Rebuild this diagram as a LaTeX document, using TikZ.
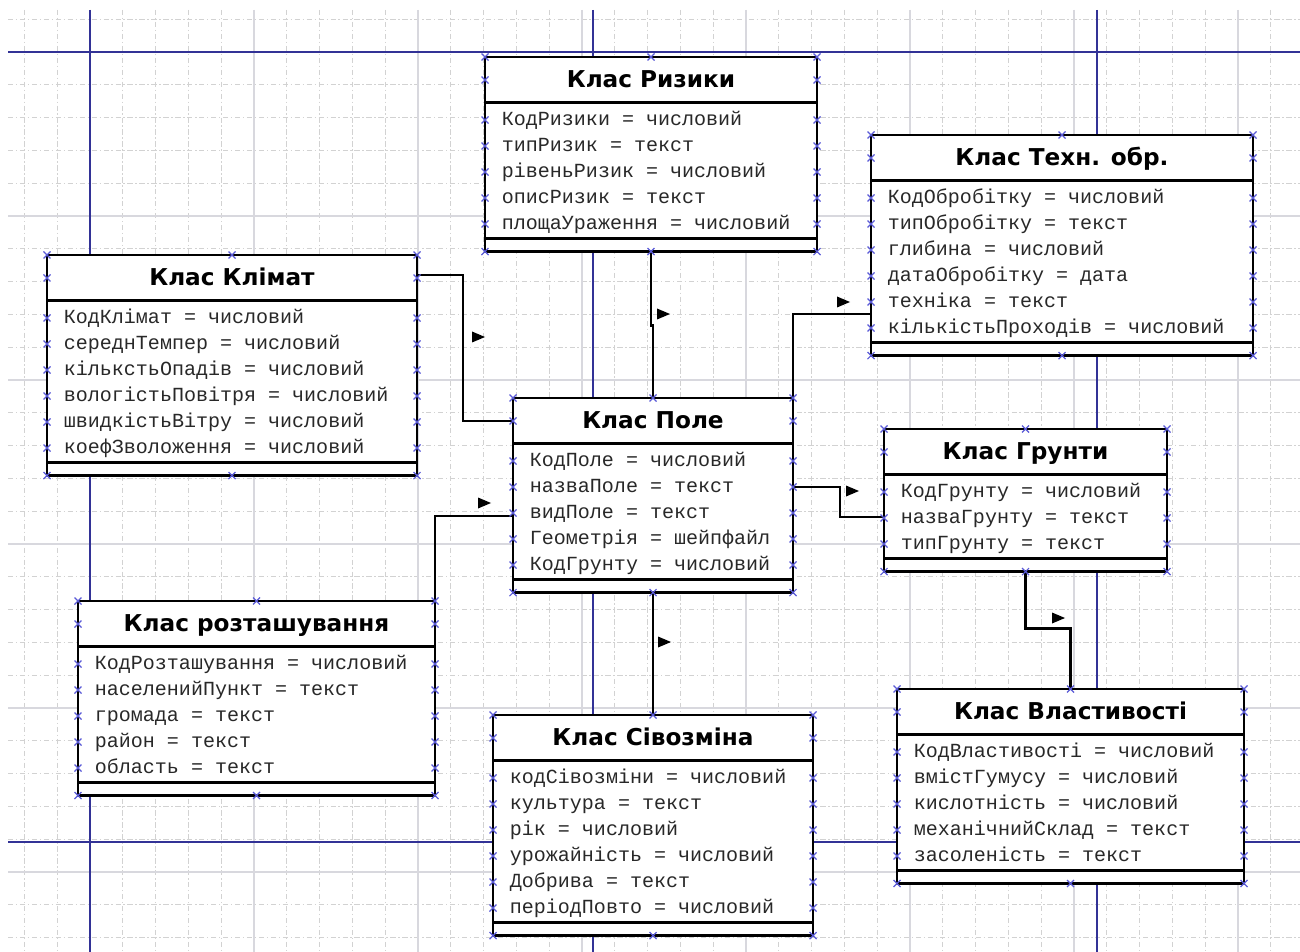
\documentclass[tikz,border=0pt]{standalone}
\usepackage{fontspec}
\usetikzlibrary{shapes.multipart,calc}
\newfontfamily\headfam{DejaVu Sans}
\newfontfamily\attrfam{Liberation Mono}
\definecolor{attrgray}{RGB}{40,40,40}
\definecolor{pageblue}{RGB}{50,50,150}
\definecolor{markblue}{RGB}{90,90,215}
\definecolor{majorgray}{RGB}{216,216,222}
\newcommand\attrfont{\attrfam\fontsize{11.4pt}{14.8pt}\selectfont}
\newcommand\ctitle[1]{{\headfam\bfseries\fontsize{13.2pt}{16pt}\selectfont\color{black}\rule[-5.9pt]{0pt}{20.5pt}#1}}
\newcommand\crow{\rule[-2.3pt]{0pt}{12.5pt}}
\newcommand\cend{\rule{0pt}{1.7pt}}
\newcommand\xm[1]{\draw[xmark] (#1) +(-3.5,-3.5) -- +(3.5,3.5) +(-3.5,3.5) -- +(3.5,-3.5);}
\newcommand\edgemarks[2]{%
  \foreach \side in {north west,north,north east,south west,south,south east} {\xm{#1.\side}}
  \xm{$(#1.north west)+(0,23)$} \xm{$(#1.north east)+(0,23)$}
  \foreach \r in {1,...,#2} {%
    \pgfmathsetmacro\dy{37+26*\r}
    \xm{$(#1.north west)+(0,\dy)$} \xm{$(#1.north east)+(0,\dy)$}
  }%
}
\tikzset{
  classbox/.style={rectangle split, rectangle split parts=3,
    rectangle split part align={center,left,left},
    draw, fill=white, line width=1.6pt, inner xsep=9.6pt, inner ysep=2pt,
    outer sep=0pt, anchor=north west, align=left, font=\attrfont, text=attrgray,
    minimum width=#1*0.02cm},
  link/.style={line width=1.6pt},
  gridminor/.style={gray!35, line width=0.5pt, dash pattern=on 3pt off 1.5pt on 0.8pt off 1.5pt},
  gridmajor/.style={majorgray, line width=0.6pt},
  pagebreak/.style={pageblue, line width=1.1pt},
  xmark/.style={markblue, line width=0.7pt},
  pointer/.pic={\fill (-6,-5.5) -- (7,0) -- (-6,5.5) -- cycle;}
}
\begin{document}
\begin{tikzpicture}[x=0.02cm, y=-0.02cm]
    \useasboundingbox (0,0) rectangle (1300,952);

    % сітка аркуша
    \begin{scope}
      \clip (8,10) rectangle (1300,952);
      \foreach \i in {-3,...,37} \draw[gridminor] ({90+32.8*\i},10) -- ({90+32.8*\i},952);
      \foreach \j in {-2,...,28} \draw[gridminor] (8,{52+32.8*\j}) -- (1300,{52+32.8*\j});
      \foreach \i in {-1,...,8} \draw[gridmajor] ({90+164*\i},10) -- ({90+164*\i},952);
      \foreach \j in {0,...,5} \draw[gridmajor] (8,{52+164*\j}) -- (1300,{52+164*\j});
    \end{scope}
    % межі сторінок
    \draw[pagebreak] (90,10) -- (90,952);
    \draw[pagebreak] (593,10) -- (593,952);
    \draw[pagebreak] (1097,10) -- (1097,952);
    \draw[pagebreak] (8,52) -- (1300,52);
    \draw[pagebreak] (8,842) -- (1300,842);

    % класи
    \node[classbox=332] (rizyky) at (485,57) {\ctitle{Клас Ризики}
      \nodepart{second}\crow КодРизики = числовий\\
      \crow типРизик = текст\\
      \crow рівеньРизик = числовий\\
      \crow описРизик = текст\\
      \crow площаУраження = числовий
      \nodepart{third}\cend};
    \node[classbox=370] (klimat) at (47,255) {\ctitle{Клас Клімат}
      \nodepart{second}\crow КодКлімат = числовий\\
      \crow середнТемпер = числовий\\
      \crow кількстьОпадів = числовий\\
      \crow вологістьПовітря = числовий\\
      \crow швидкістьВітру = числовий\\
      \crow коефЗволоження = числовий
      \nodepart{third}\cend};
    \node[classbox=382] (tekhn) at (871,135) {\ctitle{Клас Техн. обр.}
      \nodepart{second}\crow КодОбробітку = числовий\\
      \crow типОбробітку = текст\\
      \crow глибина = числовий\\
      \crow датаОбробітку = дата\\
      \crow техніка = текст\\
      \crow кількістьПроходів = числовий
      \nodepart{third}\cend};
    \node[classbox=280] (pole) at (513,398) {\ctitle{Клас Поле}
      \nodepart{second}\crow КодПоле = числовий\\
      \crow назваПоле = текст\\
      \crow видПоле = текст\\
      \crow Геометрія = шейпфайл\\
      \crow КодГрунту = числовий
      \nodepart{third}\cend};
    \node[classbox=283] (grunty) at (884,429) {\ctitle{Клас Грунти}
      \nodepart{second}\crow КодГрунту = числовий\\
      \crow назваГрунту = текст\\
      \crow типГрунту = текст
      \nodepart{third}\cend};
    \node[classbox=357] (roztash) at (78,601) {\ctitle{Клас розташування}
      \nodepart{second}\crow КодРозташування = числовий\\
      \crow населенийПункт = текст\\
      \crow громада = текст\\
      \crow район = текст\\
      \crow область = текст
      \nodepart{third}\cend};
    \node[classbox=320] (sivozm) at (493,715) {\ctitle{Клас Сівозміна}
      \nodepart{second}\crow кодСівозміни = числовий\\
      \crow культура = текст\\
      \crow рік = числовий\\
      \crow урожайність = числовий\\
      \crow Добрива = текст\\
      \crow періодПовто = числовий
      \nodepart{third}\cend};
    \node[classbox=347] (vlast) at (897,689) {\ctitle{Клас Властивості}
      \nodepart{second}\crow КодВластивості = числовий\\
      \crow вмістГумусу = числовий\\
      \crow кислотність = числовий\\
      \crow механічнийСклад = текст\\
      \crow засоленість = текст
      \nodepart{third}\cend};

    % зв'язки
    \draw[link] ($(klimat.north east)+(0,20)$) -| (463,421) -- ($(pole.north west)+(0,23)$);
    \draw[link] (rizyky.south) -- ++(0,74) -| (pole.north);
    \draw[link] (pole.north east) |- ($(tekhn.north west)+(0,179)$);
    \draw[link] (roztash.north east) |- ($(pole.north west)+(0,118)$);
    \draw[link] ($(pole.north east)+(0,89)$) -| (840,517) -- ($(grunty.north west)+(0,88)$);
    \draw[link] (pole.south) -- (sivozm.north);
    \draw[link] (grunty.south) -- ++(0,57) -| (vlast.north);

    % напрямки
    \pic at (478,337) {pointer};
    \pic at (663,314) {pointer};
    \pic at (843,302) {pointer};
    \pic at (484,503) {pointer};
    \pic at (852,491) {pointer};
    \pic at (664,642) {pointer};
    \pic at (1058,618) {pointer};

    % точки з'єднання
    \edgemarks{rizyky}{5}
    \edgemarks{klimat}{6}
    \edgemarks{tekhn}{6}
    \edgemarks{pole}{5}
    \edgemarks{grunty}{3}
    \edgemarks{roztash}{5}
    \edgemarks{sivozm}{6}
    \edgemarks{vlast}{5}
\end{tikzpicture}
\end{document}
